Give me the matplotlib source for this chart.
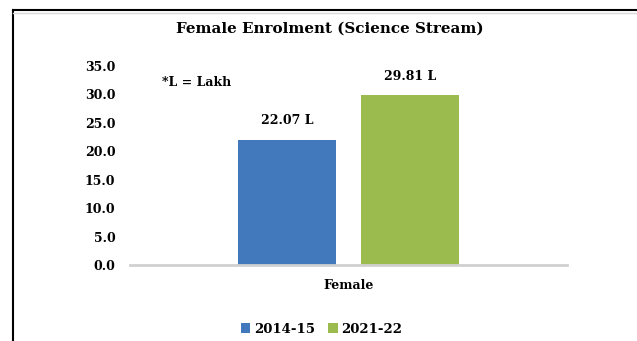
import matplotlib
matplotlib.use("Agg")
import matplotlib.pyplot as plt
from matplotlib.lines import Line2D
from matplotlib.patches import Patch

# Female enrolment in science stream (in lakh)
categories = ["Female"]
years = ["2014-15", "2021-22"]
values_2014 = [22.07]
values_2021 = [29.81]
bar_colors = ["#4279BC", "#9BBB4F"]

plt.rcParams["font.family"] = ["DejaVu Serif"]
plt.rcParams["font.weight"] = "bold"

fig = plt.figure(figsize=(6.37, 3.41), dpi=100)
ax = fig.add_axes([0.204, 0.2229, 0.686, 0.5836])

x = list(range(len(categories)))
width = 0.225
offset = 0.1407
series = [values_2014, values_2021]
for i, (vals, col) in enumerate(zip(series, bar_colors)):
    pos = [p + (i - 0.5) * 2 * offset for p in x]
    bars = ax.bar(pos, vals, width=width, color=col, zorder=2)
    for b, v in zip(bars, vals):
        ax.annotate(f"{v:.2f} L", (b.get_x() + b.get_width() / 2, v),
                    xytext=(0, 9), textcoords="offset points",
                    ha="center", va="bottom", fontsize=9, fontweight="bold")

ax.set_xlim(-0.5, 0.5)
ax.set_ylim(0, 35)
ax.set_yticks([0, 5, 10, 15, 20, 25, 30, 35])
ax.set_yticklabels([f"{t:.1f}" for t in ax.get_yticks()], fontsize=9, fontweight="bold")
ax.set_xticks(x)
ax.set_xticklabels(categories, fontsize=9, fontweight="bold")
ax.tick_params(axis="both", length=0)
ax.tick_params(axis="y", pad=10.5)
ax.tick_params(axis="x", pad=10)

for side in ["top", "right", "left"]:
    ax.spines[side].set_visible(False)
ax.spines["bottom"].set_color("#D0D0D0")
ax.spines["bottom"].set_linewidth(2)

ax.text(0.073, 0.915, "*L = Lakh", transform=ax.transAxes, fontsize=9,
        fontweight="bold", ha="left", va="center")

fig.text(0.518, 0.915, "Female Enrolment (Science Stream)", ha="center",
         va="center", fontsize=10.9, fontweight="bold")

handles = [Patch(facecolor=c, label=y) for c, y in zip(bar_colors, years)]
fig.legend(handles=handles, loc="center", bbox_to_anchor=(0.505, 0.035),
           ncol=2, frameon=False, handlelength=0.7,
           handleheight=0.7, handletextpad=0.3, columnspacing=1.0,
           prop={"weight": "bold", "size": 9.5})

# outer frame: left and top edges
fig.add_artist(Line2D([0.0204, 0.0204], [0.0, 0.971], color="black", lw=1.5,
                      transform=fig.transFigure))
fig.add_artist(Line2D([0.0204, 1.0], [0.971, 0.971], color="black", lw=1.5,
                      transform=fig.transFigure))
fig.add_artist(Line2D([0.0204, 1.0], [0.963, 0.963], color="#D8D8D8", lw=1,
                      transform=fig.transFigure))

fig.savefig("out.png", dpi=100, facecolor="white")
